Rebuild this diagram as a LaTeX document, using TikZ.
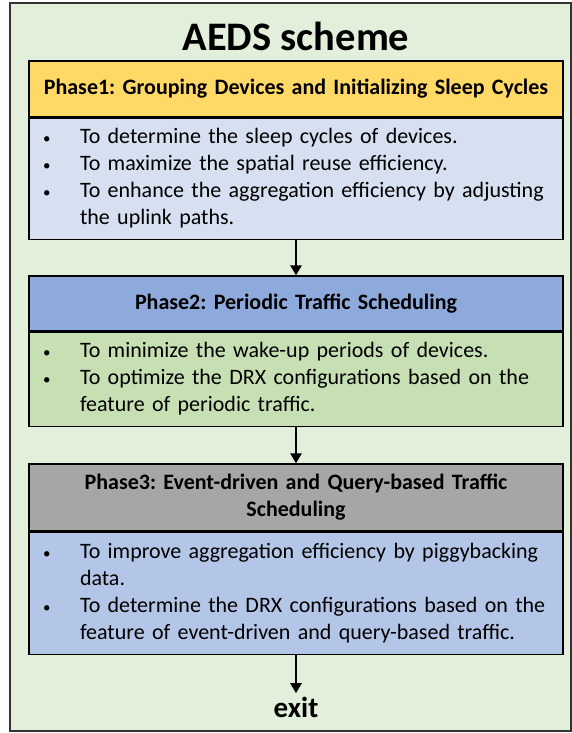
\documentclass[tikz,border=0pt]{standalone}
\usepackage{fontspec}
\setmainfont{Carlito}
\usetikzlibrary{arrows.meta}
\definecolor{bgGreen}{RGB}{226,239,218}
\definecolor{hdYellow}{RGB}{255,217,102}
\definecolor{bdLav}{RGB}{214,224,241}
\definecolor{hdBlue}{RGB}{142,169,219}
\definecolor{bdGreen}{RGB}{198,224,180}
\definecolor{hdGrey}{RGB}{166,166,166}
\definecolor{bdBlue}{RGB}{180,198,231}
\tikzset{
  hdbox/.style={draw=black, line width=1.3pt, minimum width=534pt, text width=525pt, align=center, inner sep=0pt, font=\fontsize{22}{27}\selectfont\bfseries},
  bdbox/.style={draw=black, line width=1.3pt, minimum width=534pt, text width=534pt, align=left, inner sep=0pt, font=\fontsize{22}{27}\selectfont},
  flowarrow/.style={line width=2.8pt, -{Triangle[length=10pt,width=11pt]}},
}
\newcommand\bul{{\fontsize{15}{15}\selectfont •}}
\newcommand\blist[1]{\hspace*{14pt}\begin{tabular}{@{}p{37pt}@{}l@{}}#1\end{tabular}}
\frenchspacing
\begin{document}
\begin{tikzpicture}[x=1pt,y=-1pt]
\useasboundingbox (0,0) rectangle (572,733);
\path[fill=bgGreen, draw=black!80, line width=1.3pt] (10,3) rectangle (571,731);
\node[font=\fontsize{40.5}{44}\selectfont\bfseries] (title) at (296,36) {AEDS scheme};
\node[hdbox, fill=hdYellow, minimum height=56pt] (h1) at (296,89) {Phase1: Grouping Devices and Initializing Sleep Cycles};
\node[bdbox, fill=bdLav, minimum height=121pt, anchor=north] (b1) at (h1.south) {\blist{%
\bul&To determine the sleep cycles of devices.\\
\bul&To maximize the spatial reuse efficiency.\\
\bul&To enhance the aggregation efficiency by adjusting\\
&the uplink paths.}};
\node[hdbox, fill=hdBlue, minimum height=55pt] (h2) at (296,303.5) {Phase2: Periodic Traffic Scheduling};
\node[bdbox, fill=bdGreen, minimum height=94pt, anchor=north] (b2) at (h2.south) {\blist{%
\bul&To minimize the wake-up periods of devices.\\
\bul&To optimize the DRX configurations based on the\\
&feature of periodic traffic.}};
\node[hdbox, fill=hdGrey, minimum height=67pt] (h3) at (296,497.5) {Phase3: Event-driven and Query-based Traffic\\Scheduling};
\node[bdbox, fill=bdBlue, minimum height=122pt, anchor=north] (b3) at (h3.south) {\blist{%
\bul&To improve aggregation efficiency by piggybacking\\
&data.\\
\bul&To determine the DRX configurations based on the\\
&feature of event-driven and query-based traffic.}};
\node[font=\fontsize{29}{32}\selectfont\bfseries] (exit) at (296,707) {exit};
\draw[flowarrow] (b1.south) -- (h2.north);
\draw[flowarrow] (b2.south) -- (h3.north);
\draw[flowarrow] (b3.south) -- (exit.north);
\end{tikzpicture}
\end{document}
